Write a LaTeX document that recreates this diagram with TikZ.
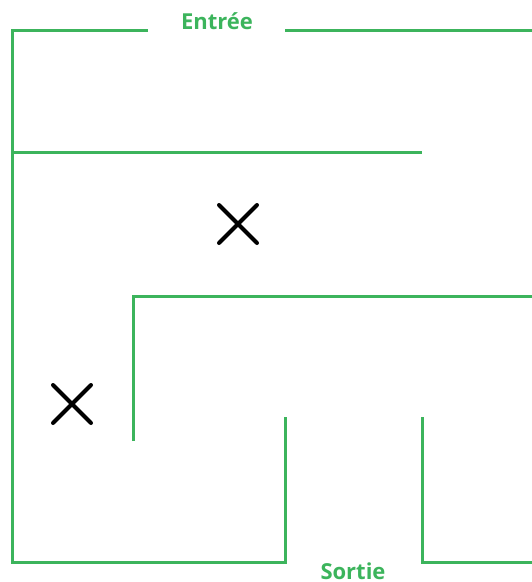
\documentclass[tikz,border=0pt]{standalone}
\usepackage{fontspec}
\setmainfont{Open Sans}
\definecolor{mazegreen}{RGB}{60,180,92}
\begin{document}
\begin{tikzpicture}[x=1pt,y=-1pt,
  wall/.style={draw=mazegreen,line width=3pt,line cap=butt,line join=miter},
  cross/.style={draw=black,line width=4pt,line cap=round},
  label/.style={text=mazegreen,font=\bfseries\fontsize{22}{26}\selectfont,inner sep=0pt}]
\useasboundingbox (0,0) rectangle (532,582);
% walls
\draw[wall] (148,30) -- (12,30) -- (12,562) -- (285,562) -- (285,417);
\draw[wall] (285,30) -- (532,30);
\draw[wall] (12,152) -- (422,152);
\draw[wall] (133,441) -- (133,296) -- (532,296);
\draw[wall] (422,417) -- (422,562) -- (532,562);
% crosses
\draw[cross] (219,205) -- (257,243) (257,205) -- (219,243);
\draw[cross] (53,385) -- (91,423) (91,385) -- (53,423);
% labels
\node[label] (entree) at (217,21) {Entrée};
\node[label] (sortie) at (353,571) {Sortie};
\end{tikzpicture}
\end{document}
